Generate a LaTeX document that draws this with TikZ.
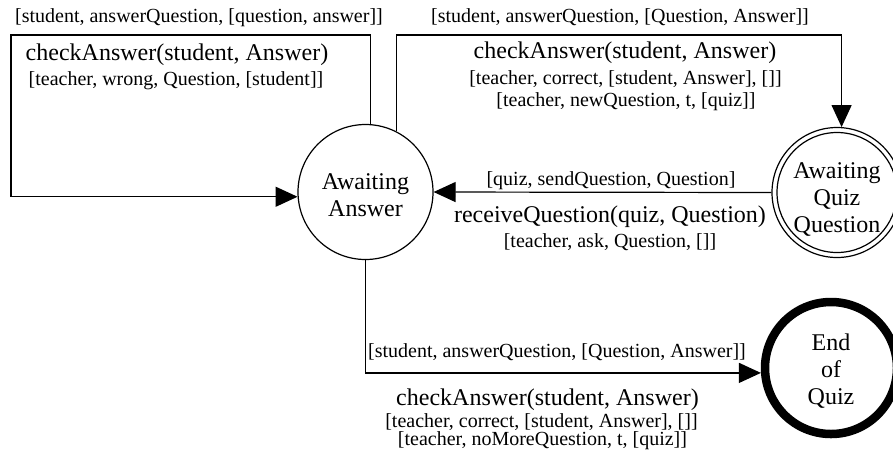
\documentclass[tikz,border=0pt]{standalone}
\usepackage{fontspec}
\setmainfont{Liberation Serif}
\usetikzlibrary{arrows.meta}

\tikzset{
  big/.style={font=\fontsize{24}{27}\selectfont},
  small/.style={font=\fontsize{20}{23}\selectfont},
  lbl/.style={inner sep=0pt, anchor=center},
  state/.style={circle, draw, line width=1.2pt, inner sep=0pt},
  edge/.style={line width=1.2pt, -{Triangle[length=22pt,width=20pt]}},
}

\begin{document}
\begin{tikzpicture}[x=1pt, y=-1pt]
  \useasboundingbox (0,0) rectangle (893,459);

  % states
  \node[state, minimum size=135pt,
        label={[big, align=center, yshift=-3pt]center:Awaiting\\Answer}]
        (AA) at (365.5,192) {};
  \node[state, minimum size=130pt,
        label={[big, align=center, yshift=-7pt]center:Awaiting\\Quiz\\Question}]
        (QQ) at (837,192.5) {};
  \draw[line width=1.2pt] (QQ.center) circle (60pt);
  \node[state, line width=8.5pt, minimum size=132pt,
        label={[big, align=center, yshift=-3pt]center:End\\of\\Quiz}]
        (EQ) at (831,368) {};

  % corner points of the routed connectors
  \coordinate (c1) at (11,35);
  \coordinate (c3) at (600,35);

  % self loop on Awaiting Answer
  \draw[edge] (AA.86) |- (c1) |- (AA.184);
  % Awaiting Answer -> Awaiting Quiz Question
  \draw[edge] (AA.63) |- (c3) -| (QQ.86);
  % Awaiting Quiz Question -> Awaiting Answer
  \draw[edge] (QQ.180) -- (AA.0);
  % Awaiting Answer -> End of Quiz
  \draw[edge] (AA.270) |- (EQ.184);

  % labels of the self loop
  \node[lbl, small] (l1a) at (199,18) {[student, answerQuestion, [question, answer]]};
  \node[lbl, big]   (l1b) at (177,55) {checkAnswer(student, Answer)};
  \node[lbl, small] (l1c) at (176,81) {[teacher, wrong, Question, [student]]};

  % labels of the upper connector
  \node[lbl, small] (l2a) at (620,17) {[student, answerQuestion, [Question, Answer]]};
  \node[lbl, big]   (l2b) at (625,53) {checkAnswer(student, Answer)};
  \node[lbl, small] (l2c) at (625.5,79) {[teacher, correct, [student, Answer], []]};
  \node[lbl, small] (l2d) at (626,102) {[teacher, newQuestion, t, [quiz]]};

  % labels of the middle connector
  \node[lbl, small] (l3a) at (611,181) {[quiz, sendQuestion, Question]};
  \node[lbl, big]   (l3b) at (610,217) {receiveQuestion(quiz, Question)};
  \node[lbl, small] (l3c) at (610,242) {[teacher, ask, Question, []]};

  % labels of the lower connector
  \node[lbl, small] (l4a) at (557,352) {[student, answerQuestion, [Question, Answer]]};
  \node[lbl, big]   (l4b) at (547.5,400) {checkAnswer(student, Answer)};
  \node[lbl, small] (l4c) at (541.5,422) {[teacher, correct, [student, Answer], []]};
  \node[lbl, small] (l4d) at (542.5,441) {[teacher, noMoreQuestion, t, [quiz]]};
\end{tikzpicture}
\end{document}
